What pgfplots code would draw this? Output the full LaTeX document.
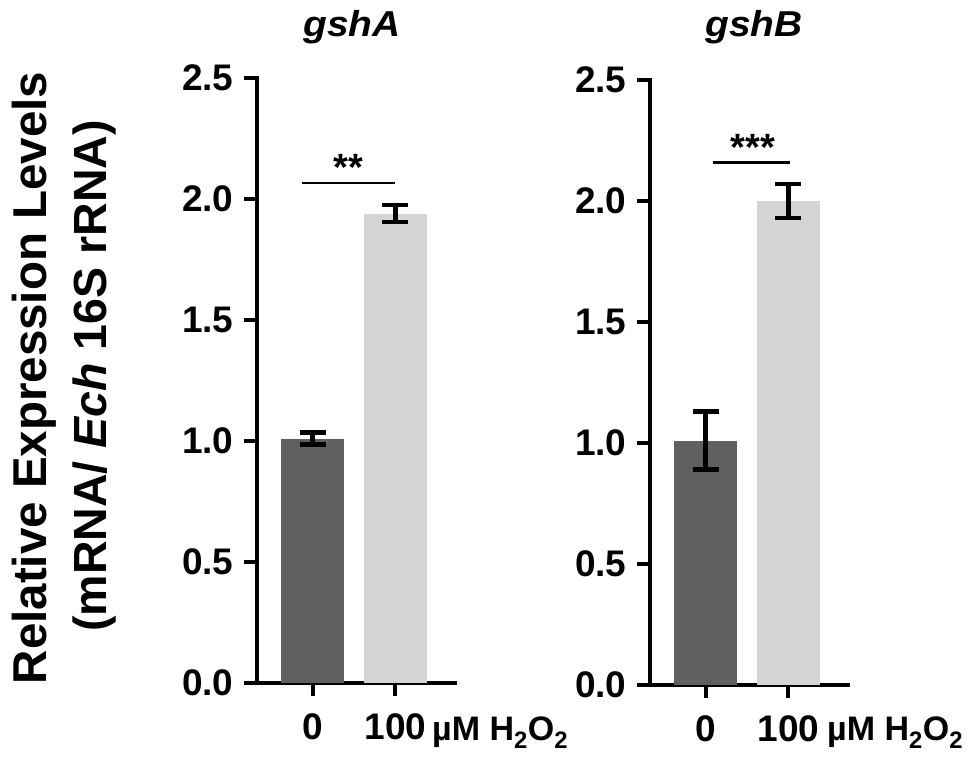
\documentclass[border=0pt]{standalone}
\usepackage{fontspec}
\setmainfont{Liberation Sans}
\usepackage{pgfplots}
\pgfplotsset{compat=1.18}
\definecolor{darkbar}{RGB}{96,96,96}
\definecolor{lightbar}{RGB}{212,212,212}
\begin{document}
\begin{tikzpicture}
\useasboundingbox (0pt,0pt) rectangle (975pt,764pt);
\pgfplotsset{
  panel/.style={
    scale only axis, width=198pt, height=605pt,
    xmin=-0.67, xmax=1.72, ymin=0, ymax=2.5,
    axis lines=left,
    axis line style={-, line width=4pt, line cap=rect},
    tick style={line width=4pt, black},
    tick align=outside, major tick length=13pt,
    ytick={0,0.5,1,1.5,2,2.5},
    xtick={0,1}, xticklabels={0,100},
    /pgf/number format/assume math mode=true,
    yticklabel style={xshift=-7pt, /pgf/number format/.cd, fixed, fixed zerofill, precision=1},
    xticklabel style={yshift=-14pt},
    ticklabel style={font=\bfseries\fontsize{37}{40}\selectfont},
    clip=false,
  },
  errs/.style={error bars/.cd, y dir=both, y explicit,
    error bar style={line width=4.5pt, black},
    error mark options={rotate=90, mark size=13pt, line width=4.5pt, black}},
}
% left panel gshA
\begin{axis}[panel, at={(257pt,81pt)}, anchor=south west]
\addplot[ybar, bar width=63pt, bar shift=0pt, fill=darkbar, draw=none, errs]
  coordinates {(0,1.01) +- (0,0.025)};
\addplot[ybar, bar width=63pt, bar shift=0pt, fill=lightbar, draw=none, errs]
  coordinates {(1,1.94) +- (0,0.035)};
\draw[line width=2.5pt] (axis cs:-0.13,2.066) -- (axis cs:0.99,2.066);
\node[anchor=base, font=\bfseries\fontsize{38}{40}\selectfont] at (axis cs:0.43,2.075) {**};
\end{axis}
% right panel gshB
\begin{axis}[panel, at={(650pt,79pt)}, anchor=south west]
\addplot[ybar, bar width=63pt, bar shift=0pt, fill=darkbar, draw=none, errs]
  coordinates {(0,1.01) +- (0,0.12)};
\addplot[ybar, bar width=63pt, bar shift=0pt, fill=lightbar, draw=none, errs]
  coordinates {(1,2.0) +- (0,0.07)};
\draw[line width=2.5pt] (axis cs:0.09,2.16) -- (axis cs:1.02,2.16);
\node[anchor=base, font=\bfseries\fontsize{38}{40}\selectfont] at (axis cs:0.57,2.168) {***};
\end{axis}
% titles
\node[anchor=base, xscale=1.08, font=\bfseries\itshape\fontsize{36}{40}\selectfont] at (352pt,727pt) {gshA};
\node[anchor=base, xscale=1.08, font=\bfseries\itshape\fontsize{36}{40}\selectfont] at (754pt,727pt) {gshB};
% unit labels
\node[anchor=base west, inner sep=0pt, font=\bfseries\fontsize{34}{40}\selectfont] at (432pt,24pt) {µM H\textsubscript{2}O\textsubscript{2}};
\node[anchor=base west, inner sep=0pt, font=\bfseries\fontsize{34}{40}\selectfont] at (827pt,24pt) {µM H\textsubscript{2}O\textsubscript{2}};
% y label
\node[anchor=base, rotate=90, inner sep=0pt, font=\bfseries\fontsize{47.5}{50}\selectfont] at (46pt,386pt) {Relative Expression Levels};
\node[anchor=base, rotate=90, inner sep=0pt, font=\bfseries\fontsize{46.5}{50}\selectfont] at (106pt,388pt) {(mRNA/ \textit{Ech} 16S rRNA)};
\end{tikzpicture}
\end{document}
